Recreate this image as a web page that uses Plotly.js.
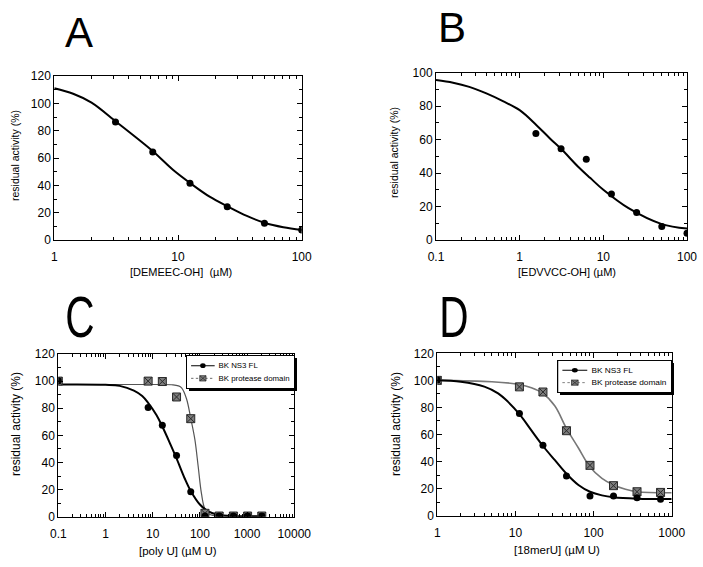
<!DOCTYPE html>
<html><head><meta charset="utf-8">
<script src="https://cdn.plot.ly/plotly-3.0.1.min.js"></script>
<style>html,body{margin:0;padding:0;background:#fff;}#chart{width:703px;height:567px;}</style>
</head><body><div id="chart"></div>
<script>
// ---------- DATA ----------
// Panel A
const A_x = [3.125, 6.25, 12.5, 25, 50, 100];
const A_y = [86.3, 64.4, 41.5, 24.4, 12.2, 7.3];
const A_fit_x = [1, 1.42, 2, 3.16, 4.35, 6.36, 9.2, 12.6, 18, 25.4, 36, 50, 71, 100];
const A_fit_y = [111, 107, 100.5, 86.5, 76.6, 64.4, 51, 41.5, 31.7, 24.4, 17.6, 12.6, 9.3, 7.3];
// Panel B
const B_x = [1.5625, 3.125, 6.25, 12.5, 25, 50, 100];
const B_y = [63.7, 54.6, 48.2, 27.5, 16.5, 8.0, 4.0];
const B_fit_x = [0.1, 0.16, 0.25, 0.4, 0.63, 1, 1.6, 2.3, 3.125, 5, 7, 10, 20, 50, 100];
const B_fit_y = [95.6, 94, 91.5, 87.6, 83, 77.6, 68.5, 60.7, 54.5, 43.8, 37, 30, 19, 9.5, 6.8];
// Panel C
const C_x = [0.1, 8, 16, 32, 64, 128, 256, 512, 1024, 2048];
const C_fl = [100.3, 80.6, 67.4, 45.2, 18.4, 0.5, 0.5, 0.5, 0.5, 0.5];
const C_pd = [100, 100, 99.7, 88.3, 72.3, 2.5, 0.5, 0.5, 0.5, 0.5];
const C_fl_fit_x = [0.1, 1, 2, 4, 6, 8, 12, 16, 24, 32, 48, 64, 100, 150, 250, 500, 2048];
const C_fl_fit_y = [97.5, 97.3, 96.5, 93, 89, 84, 75, 66.5, 53, 43, 28, 19, 9, 4, 1.5, 0.5, 0.3];
const C_pd_fit_x = [0.1, 10, 27, 35, 41, 52, 64, 78.6, 92, 108, 127, 163, 260, 2048];
const C_pd_fit_y = [97.5, 97.5, 97.3, 96.5, 95, 87, 72.5, 56.5, 37, 17, 6, 1.7, 0.5, 0.3];
// Panel D
const D_x = [1, 11.25, 22.5, 45, 90, 180, 360, 720];
const D_fl = [100.3, 75.6, 52, 29.3, 14.5, 14.5, 13.2, 12.1];
const D_pd = [100, 95.2, 91.4, 62.8, 37.2, 22.2, 17.7, 17.2];
const D_fl_fit_x = [1, 2, 4, 6, 8, 11.25, 16, 22.5, 32, 45, 64, 90, 128, 180, 360, 1000];
const D_fl_fit_y = [100, 99, 95.4, 90.4, 84.3, 75, 63, 51.5, 41, 31, 22.7, 17.7, 15, 13.6, 12.6, 12.3];
const D_pd_fit_x = [1, 5, 11.25, 16, 22.5, 32, 45, 64, 90, 128, 180, 256, 360, 1000];
const D_pd_fit_y = [100, 99, 97, 94.6, 90.4, 81, 64.5, 50, 36, 27.6, 22.7, 19.5, 17.7, 17];

// Tick labels
const A_xticks = [1, 10, 100];
const B_xticks = [0.1, 1, 10, 100];
const C_xticks = [0.1, 1, 10, 100, 1000, 10000];
const D_xticks = [1, 10, 100, 1000];
const y120_ticks = [0, 20, 40, 60, 80, 100, 120];
const y100_ticks = [0, 20, 40, 60, 80, 100];

const panelLetters = ['A', 'B', 'C', 'D'];
const yTitle = 'residual activity (%)';
const xTitles = ['[DEMEEC-OH]  (µM)', '[EDVVCC-OH] (µM)', '[poly U] (µM U)', '[18merU] (µM U)'];
const legendNames = ['BK NS3 FL', 'BK protease domain'];

// ---------- LAYOUT HELPERS ----------
const W = 703, H = 567;
const px = v => v / W;
const py = v => 1 - v / H;
const FONT = 'Liberation Sans, Arial, Helvetica, sans-serif';

function fmt(v) { return String(v); }
function minorLog(lo, hi) {
  const out = [];
  for (let e = lo; e < hi; e++) for (let m = 2; m <= 9; m++) out.push(m * Math.pow(10, e));
  return out;
}
function xaxis(dom, lo, hi, ticks) {
  return {
    type: 'log', domain: dom, range: [lo, hi],
    tickmode: 'array', tickvals: ticks, ticktext: ticks.map(fmt),
    ticks: 'inside', ticklen: 5, tickwidth: 1, tickcolor: '#000',
    minor: { tickmode: 'array', tickvals: minorLog(lo, hi), ticks: 'inside', ticklen: 3, tickcolor: '#000' },
    showline: true, linecolor: '#000', linewidth: 1, mirror: 'ticks',
    showgrid: false, zeroline: false, ticklabelstandoff: 6,
    tickfont: { family: FONT, size: 12, color: '#000' }
  };
}
function yaxis(dom, top, ticks) {
  return {
    domain: dom, range: [0, top],
    tickmode: 'array', tickvals: ticks, ticktext: ticks.map(fmt),
    ticks: 'inside', ticklen: 5, tickwidth: 1, tickcolor: '#000',
    minor: { dtick: 10, ticks: 'inside', ticklen: 3, tickcolor: '#000' },
    showline: true, linecolor: '#000', linewidth: 1, mirror: 'ticks',
    showgrid: false, zeroline: false,
    tickfont: { family: FONT, size: 12, color: '#000' }
  };
}

// ---------- TRACES ----------
const circle = { symbol: 'circle', size: 7, color: '#000' };
const square = { symbol: 'square-x', size: 8, color: '#7d7d7d', line: { color: '#2a2a2a', width: 1 } };
const fitBlack = { color: '#000', width: 2, shape: 'spline' };
const fitGray = { color: '#555', width: 1.2, shape: 'spline' };

const traces = [
  // A
  { x: A_fit_x, y: A_fit_y, xaxis: 'x', yaxis: 'y', mode: 'lines', line: fitBlack, showlegend: false },
  { x: A_x, y: A_y, xaxis: 'x', yaxis: 'y', mode: 'markers', marker: circle, showlegend: false },
  // B
  { x: B_fit_x, y: B_fit_y, xaxis: 'x2', yaxis: 'y2', mode: 'lines', line: fitBlack, showlegend: false },
  { x: B_x, y: B_y, xaxis: 'x2', yaxis: 'y2', mode: 'markers', marker: circle, showlegend: false },
  // C
  { x: C_pd_fit_x, y: C_pd_fit_y, xaxis: 'x3', yaxis: 'y3', mode: 'lines', line: fitGray, showlegend: false },
  { x: C_fl_fit_x, y: C_fl_fit_y, xaxis: 'x3', yaxis: 'y3', mode: 'lines', line: fitBlack, showlegend: false },
  { x: C_x, y: C_pd, xaxis: 'x3', yaxis: 'y3', mode: 'markers', marker: square, showlegend: false },
  { x: C_x, y: C_fl, xaxis: 'x3', yaxis: 'y3', mode: 'markers', marker: circle, showlegend: false },
  { x: [null], y: [null], xaxis: 'x3', yaxis: 'y3', mode: 'lines+markers', name: legendNames[0], legend: 'legend',
    line: { color: '#000', width: 1.5 }, marker: circle },
  { x: [null], y: [null], xaxis: 'x3', yaxis: 'y3', mode: 'lines+markers', name: legendNames[1], legend: 'legend',
    line: { color: '#333', width: 1, dash: 'dot' }, marker: square },
  // D
  { x: D_pd_fit_x, y: D_pd_fit_y, xaxis: 'x4', yaxis: 'y4', mode: 'lines', line: { color: '#777', width: 1.6, shape: 'spline' }, showlegend: false },
  { x: D_fl_fit_x, y: D_fl_fit_y, xaxis: 'x4', yaxis: 'y4', mode: 'lines', line: fitBlack, showlegend: false },
  { x: D_x, y: D_pd, xaxis: 'x4', yaxis: 'y4', mode: 'markers', marker: square, showlegend: false },
  { x: D_x, y: D_fl, xaxis: 'x4', yaxis: 'y4', mode: 'markers', marker: circle, showlegend: false },
  { x: [null], y: [null], xaxis: 'x4', yaxis: 'y4', mode: 'lines+markers', name: legendNames[0], legend: 'legend2',
    line: { color: '#000', width: 1.5 }, marker: circle },
  { x: [null], y: [null], xaxis: 'x4', yaxis: 'y4', mode: 'lines+markers', name: legendNames[1], legend: 'legend2',
    line: { color: '#555', width: 1, dash: 'dot' }, marker: square }
];

// ---------- ANNOTATIONS ----------
const ann = [];
function text(x, y, t, size, angle, name) {
  ann.push({ xref: 'paper', yref: 'paper', x: px(x), y: py(y), text: t, showarrow: false,
    xanchor: 'center', yanchor: 'middle', textangle: angle || 0, name: name || '',
    font: { family: FONT, size: size, color: '#000' } });
}
text(79, 32, panelLetters[0], 42);
text(452, 27, panelLetters[1], 42);
text(80, 316, panelLetters[2], 58, 0, 'narrow');
text(454, 316, panelLetters[3], 58, 0, 'narrow');
text(15, 156, yTitle, 10.5, -90);
text(394, 153, yTitle, 10.5, -90);
text(16, 424, yTitle, 12, -90);
text(396, 424, yTitle, 12, -90);
text(181, 272, xTitles[0], 11);
text(567, 272, xTitles[1], 11);
text(178, 551, xTitles[2], 11.5);
text(557, 550, xTitles[3], 11.5);

// legend boxes (target size in page pixels) and their drop shadows
const legBoxC = [186, 355, 108, 33];
const legBoxD = [557, 360, 114, 32];
const shadow = b => ({ type: 'rect', xref: 'paper', yref: 'paper',
  x0: px(b[0] + 3), x1: px(b[0] + b[2] + 3), y0: py(b[1] + 3), y1: py(b[1] + b[3] + 3),
  fillcolor: '#000', line: { width: 0 }, layer: 'above' });
const shapes = [shadow(legBoxC), shadow(legBoxD)];

const legendStyle = b => ({
  x: px(b[0]), y: py(b[1]), xanchor: 'left', yanchor: 'top',
  bgcolor: '#fff', bordercolor: '#000', borderwidth: 1.5,
  font: { family: FONT, size: 10, color: '#000' },
  tracegroupgap: 0, itemwidth: 30
});

const layout = {
  width: W, height: H,
  margin: { l: 0, r: 0, t: 0, b: 0 },
  paper_bgcolor: '#fff', plot_bgcolor: '#fff',
  showlegend: true,
  xaxis: Object.assign(xaxis([px(54.3), px(301.7)], 0, 2, A_xticks), { anchor: 'y' }),
  yaxis: Object.assign(yaxis([py(240), py(76)], 120, y120_ticks), { anchor: 'x' }),
  xaxis2: Object.assign(xaxis([px(436), px(687)], -1, 2, B_xticks), { anchor: 'y2' }),
  yaxis2: Object.assign(yaxis([py(240), py(72.7)], 100, y100_ticks), { anchor: 'x2' }),
  xaxis3: Object.assign(xaxis([px(58.3), px(294.3)], -1, 4, C_xticks), { anchor: 'y3' }),
  yaxis3: Object.assign(yaxis([py(516.7), py(354)], 120, y120_ticks), { anchor: 'x3' }),
  xaxis4: Object.assign(xaxis([px(437.3), px(671.7)], 0, 3, D_xticks), { anchor: 'y4' }),
  yaxis4: Object.assign(yaxis([py(515.7), py(353.3)], 120, y120_ticks), { anchor: 'x4' }),
  legend: legendStyle(legBoxC),
  legend2: legendStyle(legBoxD),
  annotations: ann,
  shapes: shapes
};

Plotly.newPlot('chart', traces, layout, { displayModeBar: false, staticPlot: true }).then(gd => {
  // condensed panel letters C and D
  gd.querySelectorAll('.annotation-text').forEach(t => {
    const s = t.textContent;
    if (s === 'C' || s === 'D') {
      t.style.transformBox = 'fill-box';
      t.style.transformOrigin = 'center';
      t.style.transform = 'scaleX(0.7)';
    }
  });
  // fit each legend into the reference box size (condensed look)
  const boxes = { legend: legBoxC, legend2: legBoxD };
  Object.keys(boxes).forEach(k => {
    const g = gd.querySelector('g.' + k);
    if (!g) return;
    const bg = g.querySelector('rect.bg');
    const w = parseFloat(bg.getAttribute('width')), h = parseFloat(bg.getAttribute('height'));
    const b = boxes[k];
    const tr = g.getAttribute('transform') || '';
    g.setAttribute('transform', tr + ' scale(' + (b[2] / w) + ',' + (b[3] / h) + ')');
  });
});
</script></body></html>
